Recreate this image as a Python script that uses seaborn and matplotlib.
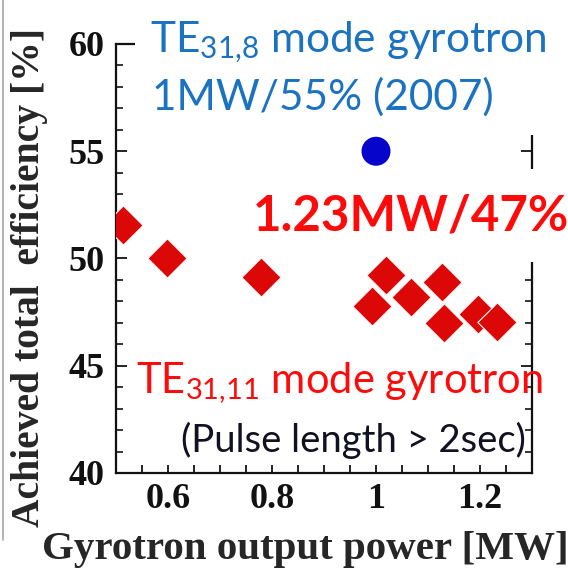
import matplotlib
matplotlib.use("Agg")
import matplotlib.pyplot as plt
import matplotlib.ticker as mticker
import seaborn as sns
import pandas as pd
from matplotlib.patches import Rectangle
from matplotlib.lines import Line2D

# ── Data ────────────────────────────────────────────────────────────────────

# TE31,11 mode gyrotron shots (pulse length > 2 s)
power_3111 = [0.514, 0.598, 0.778, 0.992, 1.019, 1.067, 1.126, 1.131, 1.197, 1.232]
eff_3111 = [51.55, 50.0, 49.13, 47.77, 49.25, 48.19, 48.91, 46.98, 47.40, 47.06]

# TE31,8 mode gyrotron (2007)
power_318 = [1.0]
eff_318 = [55.0]

x_ticks = [0.6, 0.8, 1.0, 1.2]
x_tick_labels = ["0.6", "0.8", "1", "1.2"]
y_ticks = [40, 45, 50, 55, 60]
y_tick_labels = ["40", "45", "50", "55", "60"]

RED = "#dc0808"
BLUE_DOT = "#0505cc"
BLUE_TXT = "#1a72c0"

df_3111 = pd.DataFrame({"power": power_3111, "eff": eff_3111})
df_318 = pd.DataFrame({"power": power_318, "eff": eff_318})

# ── Figure ──────────────────────────────────────────────────────────────────

sns.set_style("white")
plt.rcParams["mathtext.default"] = "regular"

fig = plt.figure(figsize=(5.68, 5.71), dpi=100)
ax = fig.add_axes([116 / 568, 1 - 473 / 571, 416 / 568, 429 / 571])

sns.scatterplot(data=df_3111, x="power", y="eff", ax=ax, marker="D", s=400,
                color=RED, edgecolor="white", linewidth=0.8, zorder=4, legend=False)
sns.scatterplot(data=df_318, x="power", y="eff", ax=ax, marker="o", s=436,
                color=BLUE_DOT, edgecolor="none", zorder=4, legend=False)

ax.set_xlim(0.5, 1.3)
ax.set_ylim(40, 60)

for s in ax.spines.values():
    s.set_visible(True)
    s.set_color("#111111")
    s.set_linewidth(1.6)

serif = dict(family="Liberation Serif", weight="bold")

ax.set_xticks(x_ticks)
ax.set_xticklabels(x_tick_labels, fontsize=26, **serif)
ax.xaxis.set_minor_locator(mticker.MultipleLocator(0.05))
ax.set_yticks(y_ticks)
ax.set_yticklabels(y_tick_labels, fontsize=26, **serif)
ax.yaxis.set_minor_locator(mticker.MultipleLocator(1))

ax.tick_params(axis="x", which="both", direction="in", length=6, width=1.3,
               top=True, bottom=True, pad=7, colors="#111111")
ax.tick_params(axis="y", which="major", direction="in", length=8, width=1.3,
               left=True, right=True, pad=8, colors="#111111")
ax.tick_params(axis="y", which="minor", direction="in", length=5, width=1.3,
               left=True, right=True)

ax.set_xlabel("Gyrotron output power [MW]", fontsize=29.5, **serif)
ax.set_ylabel("Achieved total  efficiency [%]", fontsize=28.5, **serif)
ax.xaxis.set_label_coords(0.454, -0.135)
ax.yaxis.set_label_coords(-0.163, 0.455)

# white boxes behind the annotations (they hide parts of the frame)
for (x0, y0, w, h) in [(0.0457, 0.788, 1.1, 0.35), (0.32, 0.492, 0.8, 0.217)]:
    ax.add_patch(Rectangle((x0, y0), w, h, transform=ax.transAxes,
                           facecolor="white", edgecolor="none",
                           clip_on=False, zorder=2.6))

sans = ["Lato", "DejaVu Sans"]
ax.text(0.0817, 0.9814, "TE$_{31{,}8}$ mode gyrotron", transform=ax.transAxes,
        fontsize=30.5, color=BLUE_TXT, family=sans, va="baseline", ha="left", zorder=5)
ax.text(0.0865, 0.846, "1MW/55% (2007)", transform=ax.transAxes,
        fontsize=30.5, color=BLUE_TXT, family=sans, va="baseline", ha="left", zorder=5)
ax.text(0.33, 0.5664, "1.23MW/47%", transform=ax.transAxes, fontsize=35.5,
        fontweight="bold", color="#ff0a0a", family=sans, va="baseline",
        ha="left", zorder=5)
ax.text(0.048, 0.1865, "TE$_{31{,}11}$ mode gyrotron", transform=ax.transAxes,
        fontsize=30, color="#ff0a0a", family=sans, va="baseline", ha="left", zorder=5)
ax.text(0.156, 0.049, "(Pulse length > 2sec)", transform=ax.transAxes,
        fontsize=27.5, color="#111122", family=sans, va="baseline", ha="left", zorder=5)

# thin slide border on the left edge
fig.add_artist(Line2D([0.0055, 0.0055], [0.054, 1.0], transform=fig.transFigure,
                      color="#a8a8a8", linewidth=1.2))

fig.savefig("out.png", dpi=100)
